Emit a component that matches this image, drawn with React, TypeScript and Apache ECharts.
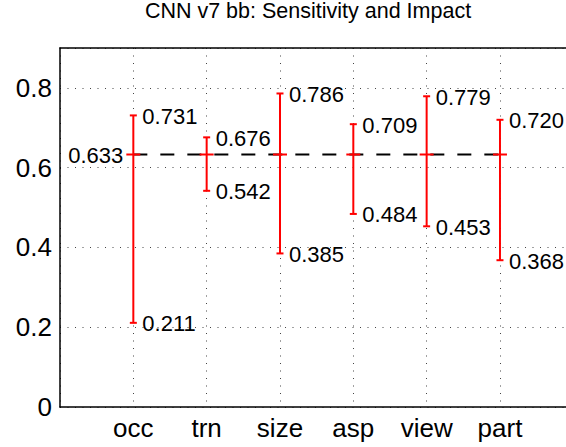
import React, { useEffect, useRef } from "react";
import * as echarts from "echarts";

const categories = ["occ", "trn", "size", "asp", "view", "part"];
const highValues = [0.731, 0.676, 0.786, 0.709, 0.779, 0.72];
const lowValues = [0.211, 0.542, 0.385, 0.484, 0.453, 0.368];
const meanValue = 0.633;
const yTicks = [0, 0.2, 0.4, 0.6, 0.8];
const titleText = "CNN v7 bb: Sensitivity and Impact";

const FONT = '"Liberation Sans", Arial, Helvetica, sans-serif';

export default function App() {
  const ref = useRef<HTMLDivElement>(null);

  useEffect(() => {
    document.body.style.margin = "0";
    if (!ref.current) return;
    const chart = echarts.init(ref.current, null, { renderer: "svg" });

    const barData = categories.map((c, i) => [i + 1, lowValues[i], highValues[i], meanValue]);
    const red = "#ff0000";

    const mkText = (x: number, y: number, text: string, align: string) => ({
      type: "text",
      x,
      y,
      style: {
        text,
        fill: "#000",
        fontSize: 22,
        fontFamily: FONT,
        align,
        verticalAlign: "middle",
        textAlign: align,
        textVerticalAlign: "middle",
      },
    });

    const dotted = { color: "#444", width: 1, type: [1, 6.5] };

    const option: any = {
      animation: false,
      backgroundColor: "#fff",
      graphic: [
        {
          type: "text",
          x: 308,
          y: 11,
          style: {
            text: titleText,
            fill: "#000",
            fontSize: 21.5,
            fontFamily: FONT,
            align: "center",
            verticalAlign: "middle",
            textAlign: "center",
            textVerticalAlign: "middle",
          },
        },
      ],
      grid: {
        left: 60,
        top: 48,
        width: 513.3,
        height: 359,
        show: false,
        containLabel: false,
        outerBoundsMode: "none",
      },
      xAxis: [
        {
          type: "value",
          position: "bottom",
          min: 0,
          max: 7,
          interval: 1,
          axisLine: { show: true, onZero: false, lineStyle: { color: "#000", width: 1.5 } },
          axisTick: { show: false },
          axisLabel: {
            margin: 8,
            color: "#000",
            fontSize: 26,
            fontFamily: FONT,
            formatter: (v: number) => {
              const i = Math.round(v) - 1;
              return i >= 0 && i < categories.length ? categories[i] : "";
            },
          },
          splitLine: { show: true, lineStyle: dotted },
        },
        {
          type: "value",
          position: "top",
          min: 0,
          max: 7,
          interval: 1,
          axisLine: { show: true, onZero: false, lineStyle: { color: "#000", width: 1.5 } },
          axisTick: { show: false },
          axisLabel: { show: false },
          splitLine: { show: false },
        },
      ],
      yAxis: {
        type: "value",
        min: 0,
        max: 0.9,
        interval: 0.2,
        axisLine: { show: true, onZero: false, lineStyle: { color: "#000", width: 1.5 } },
        axisTick: { show: false },
        axisLabel: {
          margin: 8,
          color: "#000",
          fontSize: 26,
          fontFamily: FONT,
          formatter: (v: number) => {
            const t = yTicks.find((k) => Math.abs(k - v) < 1e-6);
            return t === undefined ? "" : String(t);
          },
        },
        splitLine: { show: true, lineStyle: dotted },
      },
      series: [
        {
          type: "line",
          data: [
            [1, meanValue],
            [categories.length, meanValue],
          ],
          symbol: "none",
          z: 2,
          lineStyle: { color: "#000", width: 2, type: [14, 13] },
          silent: true,
        },
        {
          type: "custom",
          z: 5,
          data: barData,
          renderItem: (params: any, api: any) => {
            const x = api.value(0);
            const lo = api.value(1);
            const hi = api.value(2);
            const m = api.value(3);
            const pLo = api.coord([x, lo]);
            const pHi = api.coord([x, hi]);
            const pM = api.coord([x, m]);
            const ls = { stroke: red, lineWidth: 2 };
            const children: any[] = [
              { type: "line", shape: { x1: pLo[0], y1: pLo[1], x2: pHi[0], y2: pHi[1] }, style: ls },
              { type: "line", shape: { x1: pHi[0] - 3.5, y1: pHi[1], x2: pHi[0] + 3.5, y2: pHi[1] }, style: ls },
              { type: "line", shape: { x1: pLo[0] - 3.5, y1: pLo[1], x2: pLo[0] + 3.5, y2: pLo[1] }, style: ls },
              { type: "line", shape: { x1: pM[0] - 7, y1: pM[1], x2: pM[0] + 7, y2: pM[1] }, style: ls },
              mkText(pHi[0] + 9, pHi[1] + 1, hi.toFixed(3), "left"),
              mkText(pLo[0] + 9, pLo[1] + 1, lo.toFixed(3), "left"),
            ];
            if (params.dataIndex === 0) {
              children.push(mkText(pM[0] - 10, pM[1] + 1, m.toFixed(3), "right"));
            }
            return { type: "group", children };
          },
        },
      ],
    };

    chart.setOption(option);
    return () => chart.dispose();
  }, []);

  return (
    <div
      ref={ref}
      style={{ position: "fixed", left: 0, top: 0, width: 566, height: 447, background: "#fff" }}
    />
  );
}
